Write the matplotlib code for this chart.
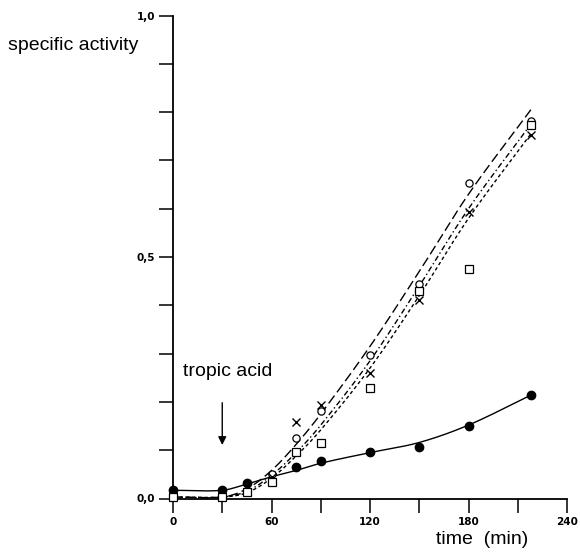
import matplotlib
matplotlib.use('Agg')
import matplotlib.pyplot as plt
import numpy as np

# ---- data ----
t_filled = [0, 30, 45, 75, 90, 120, 150, 180, 218]
v_filled = [0.017, 0.018, 0.032, 0.066, 0.078, 0.097, 0.107, 0.151, 0.214]

t_open = [0, 30, 60, 75, 90, 120, 150, 180, 218]
v_open = [0.003, 0.003, 0.05, 0.125, 0.181, 0.298, 0.445, 0.653, 0.782]

t_cross = [0, 30, 60, 75, 90, 120, 150, 180, 218]
v_cross = [0.003, 0.003, 0.045, 0.158, 0.194, 0.259, 0.41, 0.594, 0.753]

t_square = [0, 30, 45, 60, 75, 90, 120, 150, 180, 218]
v_square = [0.003, 0.003, 0.013, 0.034, 0.096, 0.1155, 0.228, 0.43, 0.475, 0.773]

# fitted curves
t_curve = [0, 30, 45, 60, 75, 90, 120, 150, 180, 218]
c_solid = [0.017, 0.017, 0.030, 0.045, 0.058, 0.073, 0.095, 0.116, 0.152, 0.214]
c_long = [0.003, 0.003, 0.020, 0.058, 0.112, 0.175, 0.315, 0.470, 0.630, 0.805]
c_dashdot = [0.003, 0.003, 0.015, 0.048, 0.095, 0.152, 0.285, 0.440, 0.600, 0.775]
c_short = [0.003, 0.003, 0.012, 0.042, 0.088, 0.142, 0.270, 0.420, 0.580, 0.755]

x_ticks = [0, 30, 60, 90, 120, 150, 180, 210, 240]
x_labels = ['0', '', '60', '', '120', '', '180', '', '240']
y_ticks = [0.0, 0.1, 0.2, 0.3, 0.4, 0.5, 0.6, 0.7, 0.8, 0.9, 1.0]
y_labels = ['0,0', '', '', '', '', '0,5', '', '', '', '', '1,0']

fig = plt.figure(figsize=(5.80, 5.53), dpi=100)
ax = fig.add_axes([173/580, 54.5/553, 394/580, 483/553])

def smooth(t, v, n=200):
    t = np.asarray(t, float); v = np.asarray(v, float)
    tt = np.linspace(t[0], t[-1], n)
    out = []
    for x in tt:
        i = min(np.searchsorted(t, x, side='right') - 1, len(t) - 2)
        i0, i1, i2, i3 = max(i - 1, 0), i, i + 1, min(i + 2, len(t) - 1)
        h = t[i2] - t[i1]
        s = (x - t[i1]) / h
        m1 = (v[i2] - v[i0]) / (t[i2] - t[i0]) * h
        m2 = (v[i3] - v[i1]) / (t[i3] - t[i1]) * h
        h00 = 2*s**3 - 3*s**2 + 1; h10 = s**3 - 2*s**2 + s
        h01 = -2*s**3 + 3*s**2; h11 = s**3 - s**2
        out.append(h00*v[i1] + h10*m1 + h01*v[i2] + h11*m2)
    return tt, np.array(out)

k = dict(color='black', lw=1.0, clip_on=False)
ax.plot(*smooth(t_curve, c_solid), ls='-', **k)
ax.plot(*smooth(t_curve, c_long), ls=(0, (7, 3)), **k)
ax.plot(*smooth(t_curve, c_dashdot), ls=(0, (4, 2, 1, 2)), **k)
ax.plot(*smooth(t_curve, c_short), ls=(0, (2.5, 2)), **k)

mk = dict(ls='none', clip_on=False, zorder=5)
ax.plot(t_filled, v_filled, marker='o', ms=6, mfc='black', mec='black', **mk)
ax.plot(t_open, v_open, marker='o', ms=5.2, mfc='white', mec='black', mew=0.9, **mk)
ax.plot(t_cross, v_cross, marker='x', ms=5.5, color='black', mew=1.0, **mk)
ax.plot(t_square, v_square, marker='s', ms=5.5, mfc='white', mec='black', mew=0.9, **mk)

ax.set_xlim(0, 240)
ax.set_ylim(0, 1.0)
for s in ['top', 'right']:
    ax.spines[s].set_visible(False)
ax.spines['left'].set_linewidth(1.3)
ax.spines['bottom'].set_linewidth(1.3)
ax.set_xticks(x_ticks)
ax.set_xticklabels(x_labels, fontsize=7.5, fontweight='bold')
ax.set_yticks(y_ticks)
ax.set_yticklabels(y_labels, fontsize=7.5, fontweight='bold')
ax.tick_params(axis='x', direction='out', length=10, width=1.1, pad=3)
ax.tick_params(axis='y', direction='out', length=10, width=1.1, pad=3)

txt = dict(fontsize=14, family='Liberation Sans', va='center')
fig.text(8/580, 1 - 45/553, 'specific activity', ha='left', **txt)
fig.text(528/580, 1 - 540/553, 'time  (min)', ha='right', **txt)
fig.text(183/580, 1 - 372/553, 'tropic acid', ha='left', **txt)
ax.annotate('', xy=(30, 0.105), xytext=(30, 0.204),
            arrowprops=dict(arrowstyle='-|>', color='black', lw=1.0, mutation_scale=12))

fig.savefig('out.png', dpi=100)
